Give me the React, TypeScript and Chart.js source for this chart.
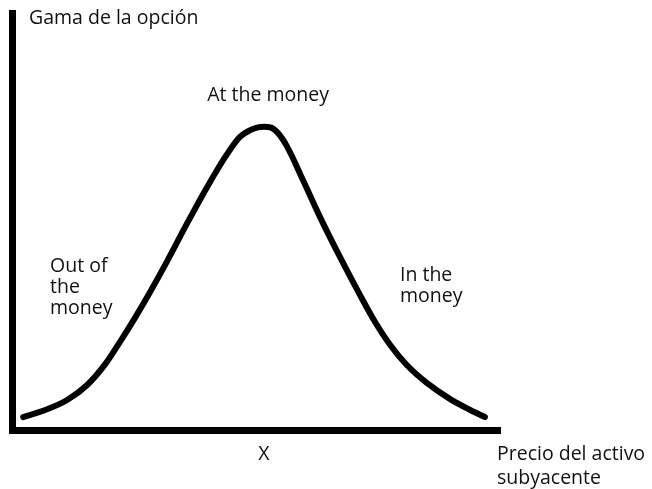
import { useEffect, useRef } from 'react';
import { Chart, registerables } from 'chart.js';

Chart.register(...registerables);

// Underlying price (horizontal axis, arbitrary units 0–100)
const precio = [
  2.3, 6.8, 11.3, 15.4, 19.1, 22.1, 25.2, 28.3, 31.8, 35.9, 40.0, 44.1, 46.7, 48.8,
  50.2, 51.6, 53.1, 54.5, 56.4, 59.6, 63.1, 67.2, 71.3, 74.4, 77.5, 80.9, 85.0, 89.8, 93.9, 96.9,
];
// Option gamma at each price (arbitrary units 0–100)
const gama = [
  3.1, 4.8, 7.2, 10.8, 15.8, 21.1, 26.9, 33.1, 40.5, 49.6, 58.3, 66.2, 70.3, 71.9,
  72.5, 72.7, 72.5, 71.2, 67.9, 60.0, 51.1, 41.5, 32.4, 25.9, 20.4, 15.6, 11.3, 7.4, 4.8, 3.1,
];

// Strike price
const STRIKE = 51.6;
const strikeLabel = 'X';

const yTitle = 'Gama de la opción';
const xTitle = ['Precio del activo', 'subyacente'];

// Moneyness zones: text lines and anchor (left edge, first baseline) in data units
const zoneLabels = [
  { lines: ['At the money'], x: 40.0, y: 78.9 },
  { lines: ['Out of', 'the', 'money'], x: 7.8, y: 37.9 },
  { lines: ['In the', 'money'], x: 79.5, y: 35.7 },
];

const FONT = '19.5px "Open Sans", "Noto Sans", sans-serif';
const TEXT_COLOR = '#111';
const LINE_HEIGHT = 21;

const textPlugin = {
  id: 'gammaText',
  afterDraw(chart: any) {
    const { ctx, chartArea, scales } = chart;
    const x = scales.x;
    const y = scales.y;
    ctx.save();
    ctx.font = FONT;
    ctx.fillStyle = TEXT_COLOR;
    ctx.textBaseline = 'alphabetic';

    // Vertical axis title, beside the top of the axis
    ctx.textAlign = 'left';
    ctx.fillText(yTitle, chartArea.left + 17, chartArea.top + 11);

    // Horizontal axis title, past the end of the axis
    xTitle.forEach((line, i) => {
      ctx.fillText(line, chartArea.right - 3, chartArea.bottom + 30 + i * 24);
    });

    // Zone labels
    zoneLabels.forEach((z) => {
      const px = x.getPixelForValue(z.x);
      const py = y.getPixelForValue(z.y);
      z.lines.forEach((line, i) => ctx.fillText(line, px, py + i * LINE_HEIGHT));
    });

    // Strike marker under the axis
    ctx.textAlign = 'center';
    ctx.fillText(strikeLabel, x.getPixelForValue(STRIKE), chartArea.bottom + 30);
    ctx.restore();
  },
};

const axisGrid = { display: false, drawTicks: false, tickLength: 0 };

export default function App() {
  const canvasRef = useRef<HTMLCanvasElement | null>(null);

  useEffect(() => {
    const canvas = canvasRef.current;
    if (!canvas) return;
    const chart = new Chart(canvas, {
      type: 'scatter',
      data: {
        datasets: [
          {
            data: precio.map((p, i) => ({ x: p, y: gama[i] })),
            showLine: true,
            borderColor: '#000',
            borderWidth: 6,
            borderCapStyle: 'round',
            borderJoinStyle: 'round',
            cubicInterpolationMode: 'monotone',
            pointRadius: 0,
            pointHoverRadius: 0,
            fill: false,
          },
        ],
      },
      options: {
        animation: false,
        responsive: true,
        maintainAspectRatio: false,
        events: [],
        layout: { padding: { left: 12, top: 13, right: 152, bottom: 59 } },
        plugins: { legend: { display: false }, tooltip: { enabled: false } },
        scales: {
          x: {
            type: 'linear',
            min: 0,
            max: 100,
            grid: axisGrid,
            ticks: { display: false },
            border: { display: true, color: '#000', width: 7 },
          },
          y: {
            type: 'linear',
            min: 0,
            max: 100,
            grid: axisGrid,
            ticks: { display: false },
            border: { display: true, color: '#000', width: 7 },
          },
        },
      },
      plugins: [textPlugin],
    });
    return () => chart.destroy();
  }, []);

  return (
    <div
      style={{
        position: 'fixed',
        left: 0,
        top: 0,
        width: 652,
        height: 489,
        background: '#fff',
      }}
    >
      <canvas ref={canvasRef} />
    </div>
  );
}
